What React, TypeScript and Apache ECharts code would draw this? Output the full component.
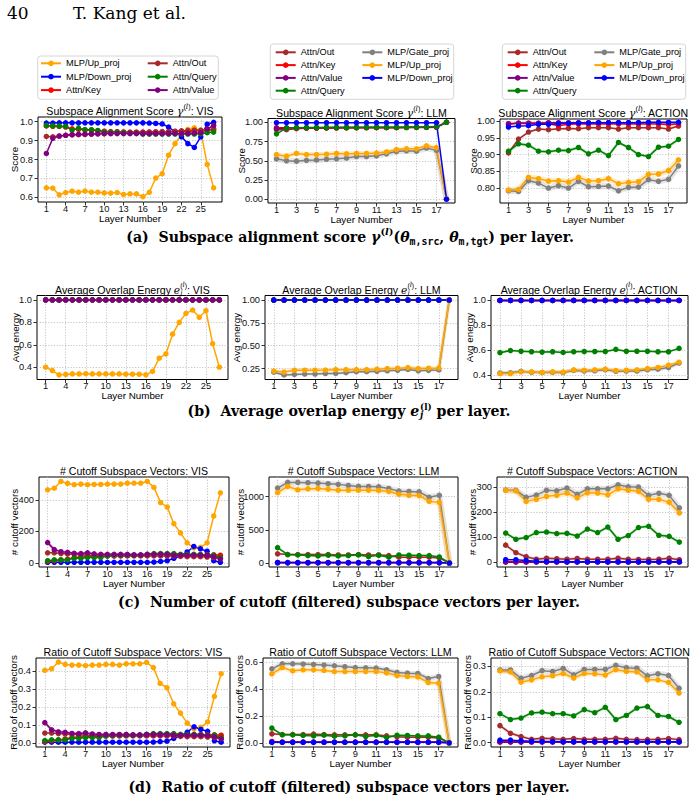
import React, { useEffect, useRef } from "react";
import * as echarts from "echarts";

// ---------------- data ----------------
const visLayers = [1,2,3,4,5,6,7,8,9,10,11,12,13,14,15,16,17,18,19,20,21,22,23,24,25,26,27];
const llmLayers = [1,2,3,4,5,6,7,8,9,10,11,12,13,14,15,16,17,18];
const actLayers = [1,2,3,4,5,6,7,8,9,10,11,12,13,14,15,16,17,18];
const visXTicks = [1,4,7,10,13,16,19,22,25];
const lmXTicks = [1,3,5,7,9,11,13,15,17];

// (a) subspace alignment score
const visGammaUp = [0.650,0.648,0.613,0.625,0.632,0.627,0.633,0.627,0.627,0.623,0.622,0.625,0.615,0.618,0.618,0.603,0.626,0.702,0.725,0.823,0.884,0.930,0.960,0.968,0.950,0.774,0.650];
const visGammaDown = [0.993,0.993,0.994,0.994,0.994,0.994,0.994,0.994,0.994,0.994,0.994,0.994,0.994,0.994,0.994,0.994,0.993,0.991,0.988,0.972,0.947,0.920,0.884,0.864,0.920,0.987,0.997];
const visGammaKey = [0.978,0.976,0.975,0.972,0.962,0.960,0.957,0.955,0.952,0.950,0.948,0.947,0.946,0.945,0.945,0.945,0.945,0.946,0.946,0.947,0.948,0.950,0.950,0.951,0.952,0.955,0.958];
const visGammaOut = [0.922,0.920,0.924,0.928,0.930,0.932,0.933,0.935,0.936,0.937,0.938,0.940,0.941,0.942,0.943,0.944,0.945,0.946,0.947,0.948,0.950,0.952,0.953,0.955,0.956,0.958,0.962];
const visGammaQuery = [0.980,0.978,0.977,0.975,0.956,0.966,0.958,0.958,0.954,0.946,0.945,0.945,0.943,0.940,0.940,0.935,0.935,0.935,0.935,0.935,0.935,0.935,0.935,0.935,0.936,0.942,0.945];
const visGammaValue = [0.832,0.912,0.924,0.928,0.932,0.933,0.934,0.935,0.936,0.937,0.937,0.937,0.937,0.937,0.937,0.937,0.937,0.937,0.937,0.937,0.938,0.938,0.938,0.940,0.942,0.962,0.980];

const llmGammaOut = [0.905,0.905,0.918,0.922,0.922,0.924,0.926,0.927,0.928,0.929,0.930,0.930,0.931,0.932,0.933,0.934,0.935,1.000];
const llmGammaKey = [0.930,0.928,0.930,0.931,0.931,0.932,0.932,0.933,0.933,0.933,0.934,0.934,0.934,0.935,0.935,0.935,0.940,1.000];
const llmGammaValue = [0.920,0.925,0.928,0.930,0.930,0.931,0.932,0.932,0.933,0.933,0.933,0.934,0.934,0.934,0.935,0.935,0.938,1.000];
const llmGammaQuery = [0.850,0.925,0.930,0.932,0.932,0.933,0.933,0.934,0.934,0.935,0.935,0.935,0.935,0.936,0.937,0.938,0.945,1.000];
const llmGammaGate = [0.525,0.500,0.495,0.505,0.510,0.520,0.525,0.535,0.555,0.555,0.565,0.590,0.620,0.630,0.625,0.665,0.635,0.000];
const llmGammaUp = [0.580,0.560,0.595,0.580,0.580,0.585,0.595,0.590,0.595,0.595,0.600,0.615,0.645,0.655,0.655,0.695,0.670,0.000];
const llmGammaDown = [0.995,0.995,0.995,0.995,0.995,0.995,0.995,0.995,0.995,0.995,0.995,0.995,0.995,0.995,0.995,0.995,0.995,0.000];

const actGammaOut = [0.905,0.946,0.967,0.976,0.974,0.977,0.978,0.977,0.980,0.980,0.980,0.976,0.980,0.980,0.980,0.980,0.976,0.985];
const actGammaKey = [0.990,0.993,0.992,0.992,0.992,0.986,0.990,0.991,0.991,0.991,0.991,0.991,0.991,0.991,0.991,0.991,0.989,0.991];
const actGammaValue = [0.992,0.994,0.994,0.994,0.995,0.995,0.995,0.995,0.995,0.995,0.995,0.995,0.995,0.995,0.995,0.995,0.995,0.995];
const actGammaQuery = [0.910,0.932,0.928,0.910,0.908,0.913,0.912,0.921,0.902,0.913,0.897,0.936,0.921,0.900,0.894,0.922,0.925,0.945];
const actGammaGate = [0.792,0.790,0.822,0.815,0.800,0.807,0.800,0.820,0.804,0.805,0.806,0.792,0.802,0.803,0.825,0.820,0.826,0.866];
const actGammaUp = [0.794,0.796,0.832,0.828,0.821,0.822,0.818,0.832,0.821,0.822,0.828,0.813,0.817,0.819,0.841,0.842,0.852,0.884];
const actGammaDown = [0.982,0.985,0.986,0.990,0.990,0.992,0.993,0.994,0.994,0.995,0.995,0.995,0.995,0.995,0.996,0.996,0.996,0.996];

// (b) average overlap energy
const visEnergyUp = [0.400,0.370,0.332,0.335,0.340,0.340,0.342,0.340,0.340,0.340,0.340,0.340,0.337,0.337,0.337,0.332,0.362,0.480,0.518,0.695,0.800,0.880,0.910,0.845,0.904,0.610,0.400];
const visEnergyDown = [1,1,1,1,1,1,1,1,1,1,1,1,1,1,1,1,1,1,1,1,1,1,1,1,1,1,1];
const visEnergyKey = [1,1,1,1,1,1,1,1,1,1,1,1,1,1,1,1,1,1,1,1,1,1,1,1,1,1,1];
const visEnergyOut = [1,1,1,1,1,1,1,1,1,1,1,1,1,1,1,1,1,1,1,1,1,1,1,1,1,1,1];
const visEnergyQuery = [1,1,1,1,1,1,1,1,1,1,1,1,1,1,1,1,1,1,1,1,1,1,1,1,1,1,1];
const visEnergyValue = [1,1,1,1,1,1,1,1,1,1,1,1,1,1,1,1,1,1,1,1,1,1,1,1,1,1,1];

const llmEnergyOut = [1,1,1,1,1,1,1,1,1,1,1,1,1,1,1,1,1,1];
const llmEnergyKey = [1,1,1,1,1,1,1,1,1,1,1,1,1,1,1,1,1,1];
const llmEnergyValue = [1,1,1,1,1,1,1,1,1,1,1,1,1,1,1,1,1,1];
const llmEnergyQuery = [1,1,1,1,1,1,1,1,1,1,1,1,1,1,1,1,1,1];
const llmEnergyGate = [0.210,0.180,0.185,0.190,0.190,0.195,0.197,0.205,0.215,0.215,0.220,0.225,0.230,0.240,0.225,0.230,0.235,1.000];
const llmEnergyUp = [0.222,0.212,0.232,0.232,0.232,0.233,0.238,0.238,0.238,0.238,0.243,0.250,0.254,0.260,0.250,0.254,0.257,1.000];
const llmEnergyDown = [1,1,1,1,1,1,1,1,1,1,1,1,1,1,1,1,1,1];

const actEnergyOut = [1,1,1,1,1,1,1,1,1,1,1,1,1,1,1,1,1,1];
const actEnergyKey = [1,1,1,1,1,1,1,1,1,1,1,1,1,1,1,1,1,1];
const actEnergyValue = [1,1,1,1,1,1,1,1,1,1,1,1,1,1,1,1,1,1];
const actEnergyQuery = [0.578,0.596,0.590,0.586,0.583,0.586,0.580,0.586,0.588,0.588,0.588,0.605,0.590,0.590,0.590,0.586,0.586,0.613];
const actEnergyGate = [0.415,0.416,0.428,0.420,0.418,0.420,0.418,0.435,0.430,0.432,0.440,0.428,0.430,0.430,0.440,0.445,0.458,0.495];
const actEnergyUp = [0.410,0.410,0.424,0.424,0.419,0.424,0.422,0.440,0.437,0.440,0.446,0.435,0.437,0.440,0.450,0.459,0.478,0.502];
const actEnergyDown = [1,1,1,1,1,1,1,1,1,1,1,1,1,1,1,1,1,1];

// (c) number of cutoff subspace vectors
const visCutoffUp = [464,474,517,504,496,500,496,498,498,500,500,500,506,506,506,517,479,383,355,249,191,128,96,100,128,298,445];
const visCutoffDown = [5,5,5,5,5,5,5,5,5,5,5,5,5,5,5,5,6,10,15,30,45,70,105,90,75,15,5];
const visCutoffKey = [10,15,20,25,35,38,40,42,44,45,46,47,48,50,50,52,54,56,56,55,52,50,50,50,52,52,50];
const visCutoffOut = [65,65,60,58,55,52,50,48,46,45,45,45,45,45,45,45,45,45,44,44,42,40,40,40,38,35,30];
const visCutoffQuery = [15,20,20,20,30,30,35,35,35,45,50,50,50,50,50,55,60,60,60,60,55,55,55,55,50,50,35];
const visCutoffValue = [130,85,72,68,62,60,65,58,55,55,55,55,55,52,52,55,55,55,55,50,50,50,50,50,48,40,25];

const llmCutoffOut = [138,128,128,128,128,128,122,122,128,122,122,112,87,87,87,87,77,0];
const llmCutoffKey = [8,6,6,6,6,6,6,6,6,6,6,6,6,6,6,6,6,0];
const llmCutoffValue = [4,4,4,4,4,4,4,4,4,4,4,4,4,4,4,4,4,0];
const llmCutoffQuery = [230,128,122,112,107,117,107,112,122,97,117,87,122,117,112,112,92,0];
const llmCutoffGate = [1128,1214,1214,1209,1204,1194,1184,1168,1153,1153,1148,1122,1082,1077,1071,990,1020,0];
const llmCutoffUp = [1061,1153,1102,1117,1122,1112,1097,1097,1097,1097,1092,1077,1036,1020,1015,929,913,0];
const llmCutoffDown = [6,6,6,6,6,6,6,6,6,6,6,6,6,6,6,6,6,0];

const actCutoffOut = [69,39,23,13,17,15,13,16,13,13,13,17,13,12,12,13,17,11];
const actCutoffKey = [3,3,3,3,3,3,3,3,3,3,3,3,3,3,3,3,3,3];
const actCutoffValue = [1,1,1,1,1,1,1,1,1,1,1,1,1,1,1,1,1,1];
const actCutoffQuery = [117,92,99,119,121,115,116,105,133,119,141,92,107,139,144,108,104,81];
const actCutoffGate = [288,287,259,268,287,285,296,271,293,293,293,309,301,300,267,275,267,217];
const actCutoffUp = [287,285,243,251,263,267,276,257,277,276,269,293,287,283,251,251,240,197];
const actCutoffDown = [11,11,8,5,4,4,3,3,3,3,3,3,3,3,3,3,3,3];

// (d) ratio of cutoff subspace vectors
const visRatioUp = [0.404,0.413,0.450,0.437,0.433,0.433,0.430,0.433,0.433,0.437,0.437,0.433,0.440,0.440,0.440,0.448,0.419,0.331,0.307,0.218,0.166,0.110,0.078,0.087,0.117,0.259,0.385];
const visRatioDown = [0.004,0.004,0.004,0.004,0.004,0.004,0.004,0.004,0.004,0.004,0.004,0.004,0.004,0.004,0.004,0.004,0.005,0.008,0.010,0.025,0.040,0.060,0.090,0.075,0.065,0.012,0.004];
const visRatioKey = [0.008,0.012,0.017,0.022,0.030,0.033,0.035,0.036,0.038,0.039,0.040,0.041,0.042,0.043,0.043,0.045,0.047,0.048,0.048,0.047,0.045,0.043,0.043,0.043,0.045,0.045,0.043];
const visRatioOut = [0.055,0.055,0.052,0.050,0.048,0.045,0.043,0.041,0.040,0.039,0.039,0.039,0.039,0.039,0.039,0.039,0.039,0.039,0.038,0.038,0.036,0.035,0.035,0.035,0.033,0.030,0.026];
const visRatioQuery = [0.013,0.017,0.017,0.017,0.026,0.026,0.030,0.030,0.030,0.039,0.043,0.043,0.043,0.043,0.043,0.048,0.052,0.052,0.052,0.052,0.048,0.048,0.048,0.048,0.043,0.043,0.030];
const visRatioValue = [0.113,0.073,0.062,0.059,0.053,0.052,0.056,0.050,0.047,0.047,0.047,0.047,0.047,0.045,0.045,0.047,0.047,0.047,0.047,0.043,0.043,0.043,0.043,0.043,0.041,0.034,0.022];

const llmRatioOut = [0.067,0.062,0.062,0.062,0.065,0.062,0.060,0.060,0.060,0.060,0.060,0.052,0.045,0.042,0.042,0.042,0.037,0];
const llmRatioKey = [0.010,0.006,0.006,0.006,0.006,0.006,0.006,0.006,0.006,0.006,0.006,0.006,0.006,0.006,0.006,0.006,0.006,0];
const llmRatioValue = [0.004,0.004,0.004,0.004,0.004,0.004,0.004,0.004,0.004,0.004,0.004,0.004,0.004,0.004,0.004,0.004,0.004,0];
const llmRatioQuery = [0.110,0.060,0.060,0.055,0.052,0.057,0.050,0.052,0.060,0.047,0.057,0.040,0.057,0.055,0.052,0.052,0.042,0];
const llmRatioGate = [0.552,0.590,0.590,0.588,0.585,0.580,0.575,0.568,0.562,0.560,0.558,0.545,0.525,0.520,0.518,0.480,0.495,0];
const llmRatioUp = [0.515,0.562,0.537,0.545,0.545,0.540,0.532,0.532,0.532,0.532,0.532,0.522,0.502,0.495,0.492,0.450,0.445,0];
const llmRatioDown = [0.005,0.005,0.005,0.005,0.005,0.005,0.005,0.005,0.005,0.005,0.005,0.005,0.005,0.005,0.005,0.005,0.005,0];

const actRatioOut = [0.067,0.037,0.024,0.013,0.017,0.015,0.013,0.016,0.013,0.013,0.013,0.017,0.013,0.012,0.012,0.013,0.016,0.012];
const actRatioKey = [0.004,0.004,0.004,0.004,0.004,0.004,0.004,0.004,0.004,0.004,0.004,0.004,0.004,0.004,0.004,0.004,0.004,0.004];
const actRatioValue = [0.002,0.002,0.002,0.002,0.002,0.002,0.002,0.002,0.002,0.002,0.002,0.002,0.002,0.002,0.002,0.002,0.002,0.002];
const actRatioQuery = [0.114,0.091,0.097,0.117,0.120,0.114,0.114,0.105,0.130,0.118,0.139,0.091,0.107,0.136,0.142,0.107,0.103,0.080];
const actRatioGate = [0.286,0.286,0.253,0.264,0.283,0.280,0.292,0.267,0.288,0.288,0.288,0.304,0.295,0.293,0.263,0.271,0.264,0.214];
const actRatioUp = [0.282,0.278,0.238,0.247,0.259,0.263,0.272,0.254,0.272,0.271,0.266,0.287,0.280,0.278,0.247,0.247,0.237,0.195];
const actRatioDown = [0.010,0.010,0.008,0.006,0.005,0.005,0.004,0.004,0.004,0.004,0.004,0.004,0.004,0.004,0.004,0.004,0.004,0.004];

// ---------------- styles ----------------
const COLOR: Record<string, string> = {
  "Attn/Out": "#a52a2a",
  "Attn/Key": "#ff0000",
  "Attn/Value": "#800080",
  "Attn/Query": "#008000",
  "MLP/Gate_proj": "#808080",
  "MLP/Up_proj": "#ffa500",
  "MLP/Down_proj": "#0000ff",
};
const SANS = "'Liberation Sans', Arial, Helvetica, sans-serif";
const SERIF = "'DejaVu Serif', 'Liberation Serif', serif";
const MONO = "'DejaVu Sans Mono', 'Liberation Mono', monospace";
const TITLE_SIZE = 10.6;
const TICK_SIZE = 9.3;
const NAME_SIZE = 9.8;
const LEGEND_SIZE = 9.2;

type Piece = { t: string; k?: number; fam?: string; it?: boolean; bold?: boolean; dy?: number; stay?: boolean; gap?: number };

let _ctx: CanvasRenderingContext2D | null = null;
function ctx2d() {
  if (!_ctx) _ctx = document.createElement("canvas").getContext("2d");
  return _ctx!;
}
function fontStr(size: number, fam: string, it: boolean, bold: boolean) {
  return `${it ? "italic " : ""}${bold ? "bold " : ""}${size}px ${fam}`;
}
function measure(pieces: Piece[], base: number, fam: string, bold: boolean) {
  const c = ctx2d();
  return pieces.map((p) => {
    const size = base * (p.k ?? 1);
    c.font = fontStr(size, p.fam ?? fam, !!p.it, p.bold ?? bold);
    return { p, size, w: c.measureText(p.t).width + (p.gap ?? 0) };
  });
}
function totalWidth(pieces: Piece[], base: number, fam: string, bold: boolean) {
  return measure(pieces, base, fam, bold).reduce((s, m) => s + (m.p.stay ? 0 : m.w), 0);
}
function compose(pieces: Piece[], x: number, cy: number, base: number, fam: string, align: "center" | "left", bold = false, fill = "#000") {
  const ms = measure(pieces, base, fam, bold);
  const total = ms.reduce((s, m) => s + (m.p.stay ? 0 : m.w), 0);
  let cx = align === "center" ? x - total / 2 : x;
  const els: any[] = [];
  ms.forEach((m) => {
    els.push({
      type: "text", x: cx, y: cy + ((m.p.dy ?? 0) * base) / 10, silent: true, z: 50,
      style: {
        text: m.p.t, fontSize: m.size, fontFamily: m.p.fam ?? fam,
        fontStyle: m.p.it ? "italic" : "normal", fontWeight: (m.p.bold ?? bold) ? "bold" : "normal",
        fill, align: "left", verticalAlign: "middle",
      },
    });
    if (!m.p.stay) cx += m.w;
  });
  return els;
}

const gammaTitle = (d: string): Piece[] => [
  { t: "Subspace Alignment Score " }, { t: "γ", fam: SERIF, it: true },
  { t: "(", k: 0.7, dy: -4 }, { t: "l", k: 0.7, dy: -4, fam: SERIF, it: true }, { t: ")", k: 0.7, dy: -4 },
  { t: ": " + d },
];
const energyTitle = (d: string): Piece[] => [
  { t: "Average Overlap Energy " }, { t: "e", fam: SERIF, it: true },
  { t: "j", k: 0.65, dy: 3.5, fam: SERIF, it: true, stay: true },
  { t: "(", k: 0.65, dy: -4.2 }, { t: "l", k: 0.65, dy: -4.2, fam: SERIF, it: true }, { t: ")", k: 0.65, dy: -4.2 },
  { t: ": " + d },
];
const plainTitle = (s: string): Piece[] => [{ t: s }];

type SeriesDef = { name: string; data: number[]; band?: number };
type Panel = {
  box: [number, number, number, number];
  layers: number[]; xr: [number, number]; xticks: number[];
  yr: [number, number]; yticks: number[]; ydec: number; yname: string; ygap: number; xgap: number;
  title: Piece[]; series: SeriesDef[];
};

const visX: [number, number] = [-0.3, 28.3];
const lmX: [number, number] = [0.15, 18.85];

const PANELS: Panel[] = [
  // row a
  { box: [38, 117, 222, 202], layers: visLayers, xr: visX, xticks: visXTicks, yr: [0.575, 1.025], yticks: [0.6, 0.7, 0.8, 0.9, 1.0], ydec: 1, yname: "Score", ygap: 19, xgap: 11, title: gammaTitle("VIS"),
    series: [
      { name: "MLP/Up_proj", data: visGammaUp }, { name: "MLP/Down_proj", data: visGammaDown },
      { name: "Attn/Key", data: visGammaKey }, { name: "Attn/Out", data: visGammaOut },
      { name: "Attn/Query", data: visGammaQuery }, { name: "Attn/Value", data: visGammaValue },
    ] },
  { box: [268, 118.5, 455, 203], layers: llmLayers, xr: lmX, xticks: lmXTicks, yr: [-0.05, 1.05], yticks: [0, 0.25, 0.5, 0.75, 1.0], ydec: 2, yname: "Score", ygap: 22, xgap: 11, title: gammaTitle("LLM"),
    series: [
      { name: "Attn/Out", data: llmGammaOut }, { name: "Attn/Key", data: llmGammaKey },
      { name: "Attn/Value", data: llmGammaValue }, { name: "Attn/Query", data: llmGammaQuery },
      { name: "MLP/Gate_proj", data: llmGammaGate, band: 6 }, { name: "MLP/Up_proj", data: llmGammaUp, band: 5 },
      { name: "MLP/Down_proj", data: llmGammaDown },
    ] },
  { box: [500, 119, 687, 203], layers: actLayers, xr: lmX, xticks: lmXTicks, yr: [0.7555, 1.006], yticks: [0.8, 0.85, 0.9, 0.95, 1.0], ydec: 2, yname: "Score", ygap: 22, xgap: 11, title: gammaTitle("ACTION"),
    series: [
      { name: "Attn/Out", data: actGammaOut, band: 2 }, { name: "Attn/Key", data: actGammaKey },
      { name: "Attn/Value", data: actGammaValue }, { name: "Attn/Query", data: actGammaQuery, band: 3 },
      { name: "MLP/Gate_proj", data: actGammaGate, band: 6 }, { name: "MLP/Up_proj", data: actGammaUp, band: 6 },
      { name: "MLP/Down_proj", data: actGammaDown },
    ] },
  // row b
  { box: [37, 295.5, 228, 379.5], layers: visLayers, xr: visX, xticks: visXTicks, yr: [0.29, 1.04], yticks: [0.4, 0.6, 0.8, 1.0], ydec: 1, yname: "Avg energy", ygap: 17, xgap: 10.5, title: energyTitle("VIS"),
    series: [
      { name: "MLP/Up_proj", data: visEnergyUp }, { name: "MLP/Down_proj", data: visEnergyDown },
      { name: "Attn/Key", data: visEnergyKey }, { name: "Attn/Out", data: visEnergyOut },
      { name: "Attn/Query", data: visEnergyQuery }, { name: "Attn/Value", data: visEnergyValue },
    ] },
  { box: [265, 295.5, 458, 379.5], layers: llmLayers, xr: lmX, xticks: lmXTicks, yr: [0.13, 1.05], yticks: [0.25, 0.5, 0.75, 1.0], ydec: 2, yname: "Avg energy", ygap: 23.5, xgap: 10.5, title: energyTitle("LLM"),
    series: [
      { name: "Attn/Out", data: llmEnergyOut }, { name: "Attn/Key", data: llmEnergyKey },
      { name: "Attn/Value", data: llmEnergyValue }, { name: "Attn/Query", data: llmEnergyQuery },
      { name: "MLP/Gate_proj", data: llmEnergyGate, band: 3 }, { name: "MLP/Up_proj", data: llmEnergyUp, band: 4 },
      { name: "MLP/Down_proj", data: llmEnergyDown },
    ] },
  { box: [491, 295.5, 688, 379.5], layers: actLayers, xr: lmX, xticks: lmXTicks, yr: [0.362, 1.04], yticks: [0.4, 0.6, 0.8, 1.0], ydec: 1, yname: "Avg energy", ygap: 17, xgap: 10.5, title: energyTitle("ACTION"),
    series: [
      { name: "Attn/Out", data: actEnergyOut }, { name: "Attn/Key", data: actEnergyKey },
      { name: "Attn/Value", data: actEnergyValue }, { name: "Attn/Query", data: actEnergyQuery, band: 2 },
      { name: "MLP/Gate_proj", data: actEnergyGate, band: 4 }, { name: "MLP/Up_proj", data: actEnergyUp, band: 4 },
      { name: "MLP/Down_proj", data: actEnergyDown },
    ] },
  // row c
  { box: [39, 477, 229, 567], layers: visLayers, xr: visX, xticks: visXTicks, yr: [-25, 545], yticks: [0, 200, 400], ydec: 0, yname: "# cutoff vectors", ygap: 20, xgap: 11.5, title: plainTitle("# Cutoff Subspace Vectors: VIS"),
    series: [
      { name: "MLP/Up_proj", data: visCutoffUp }, { name: "MLP/Down_proj", data: visCutoffDown },
      { name: "Attn/Key", data: visCutoffKey }, { name: "Attn/Out", data: visCutoffOut },
      { name: "Attn/Query", data: visCutoffQuery }, { name: "Attn/Value", data: visCutoffValue, band: 3 },
    ] },
  { box: [269, 477, 458, 567], layers: llmLayers, xr: lmX, xticks: lmXTicks, yr: [-60, 1295], yticks: [0, 500, 1000], ydec: 0, yname: "# cutoff vectors", ygap: 24, xgap: 11.5, title: plainTitle("# Cutoff Subspace Vectors: LLM"),
    series: [
      { name: "Attn/Out", data: llmCutoffOut, band: 2 }, { name: "Attn/Key", data: llmCutoffKey },
      { name: "Attn/Value", data: llmCutoffValue }, { name: "Attn/Query", data: llmCutoffQuery, band: 2 },
      { name: "MLP/Gate_proj", data: llmCutoffGate, band: 6 }, { name: "MLP/Up_proj", data: llmCutoffUp, band: 6 },
      { name: "MLP/Down_proj", data: llmCutoffDown },
    ] },
  { box: [497, 477, 688, 567], layers: actLayers, xr: lmX, xticks: lmXTicks, yr: [-18, 340], yticks: [0, 100, 200, 300], ydec: 0, yname: "# cutoff vectors", ygap: 20, xgap: 11.5, title: plainTitle("# Cutoff Subspace Vectors: ACTION"),
    series: [
      { name: "Attn/Out", data: actCutoffOut, band: 3 }, { name: "Attn/Key", data: actCutoffKey },
      { name: "Attn/Value", data: actCutoffValue }, { name: "Attn/Query", data: actCutoffQuery, band: 3 },
      { name: "MLP/Gate_proj", data: actCutoffGate, band: 6 }, { name: "MLP/Up_proj", data: actCutoffUp, band: 6 },
      { name: "MLP/Down_proj", data: actCutoffDown },
    ] },
  // row d
  { box: [36, 658, 230, 747], layers: visLayers, xr: visX, xticks: visXTicks, yr: [-0.0225, 0.4725], yticks: [0, 0.1, 0.2, 0.3, 0.4], ydec: 1, yname: "Ratio of cutoff vectors", ygap: 18, xgap: 11, title: plainTitle("Ratio of Cutoff Subspace Vectors: VIS"),
    series: [
      { name: "MLP/Up_proj", data: visRatioUp }, { name: "MLP/Down_proj", data: visRatioDown },
      { name: "Attn/Key", data: visRatioKey }, { name: "Attn/Out", data: visRatioOut },
      { name: "Attn/Query", data: visRatioQuery }, { name: "Attn/Value", data: visRatioValue, band: 3 },
    ] },
  { box: [263, 658, 458, 747], layers: llmLayers, xr: lmX, xticks: lmXTicks, yr: [-0.031, 0.633], yticks: [0, 0.2, 0.4, 0.6], ydec: 1, yname: "Ratio of cutoff vectors", ygap: 18.5, xgap: 11, title: plainTitle("Ratio of Cutoff Subspace Vectors: LLM"),
    series: [
      { name: "Attn/Out", data: llmRatioOut, band: 2 }, { name: "Attn/Key", data: llmRatioKey },
      { name: "Attn/Value", data: llmRatioValue }, { name: "Attn/Query", data: llmRatioQuery, band: 2 },
      { name: "MLP/Gate_proj", data: llmRatioGate, band: 5 }, { name: "MLP/Up_proj", data: llmRatioUp, band: 5 },
      { name: "MLP/Down_proj", data: llmRatioDown },
    ] },
  { box: [491, 658, 688, 747], layers: actLayers, xr: lmX, xticks: lmXTicks, yr: [-0.017, 0.333], yticks: [0, 0.1, 0.2, 0.3], ydec: 1, yname: "Ratio of cutoff vectors", ygap: 19, xgap: 11, title: plainTitle("Ratio of Cutoff Subspace Vectors: ACTION"),
    series: [
      { name: "Attn/Out", data: actRatioOut, band: 3 }, { name: "Attn/Key", data: actRatioKey },
      { name: "Attn/Value", data: actRatioValue }, { name: "Attn/Query", data: actRatioQuery, band: 3 },
      { name: "MLP/Gate_proj", data: actRatioGate, band: 6 }, { name: "MLP/Up_proj", data: actRatioUp, band: 5 },
      { name: "MLP/Down_proj", data: actRatioDown },
    ] },
];

const capA: Piece[] = [
  { t: "(a)  " }, { t: "Subspace alignment score " }, { t: "γ", it: true },
  { t: "(", k: 0.7, dy: -4 }, { t: "l", k: 0.7, dy: -4, it: true }, { t: ")", k: 0.7, dy: -4 },
  { t: "(" }, { t: "θ", it: true }, { t: "m,src", k: 0.7, dy: 3, fam: MONO },
  { t: ", " }, { t: "θ", it: true }, { t: "m,tgt", k: 0.7, dy: 3, fam: MONO },
  { t: ") per layer." },
];
const capB: Piece[] = [
  { t: "(b)  " }, { t: "Average overlap energy " }, { t: "e", it: true, gap: 0.8 },
  { t: "j", k: 0.62, dy: 3.2, it: true, stay: true },
  { t: "(l)", k: 0.62, dy: -2.8 },
  { t: "\u00a0per layer." },
];
const capC: Piece[] = [{ t: "(c)  " }, { t: "Number of cutoff (filtered) subspace vectors per layer." }];
const capD: Piece[] = [{ t: "(d)  " }, { t: "Ratio of cutoff (filtered) subspace vectors per layer." }];

function buildOption() {
  const grid: any[] = [];
  const xAxis: any[] = [];
  const yAxis: any[] = [];
  const series: any[] = [];
  const graphics: any[] = [];
  const tickLabel = { fontSize: TICK_SIZE, color: "#111", fontFamily: SANS };
  const nameStyle = { fontSize: NAME_SIZE, color: "#000", fontFamily: SANS };
  const split = { show: true, lineStyle: { color: "#b8b8b8", width: 0.8, type: [1.2, 1.6] } };

  PANELS.forEach((p, i) => {
    const [l, t, r, b] = p.box;
    grid.push({ left: l, top: t, width: r - l, height: b - t, show: true, borderColor: "#000", borderWidth: 1, backgroundColor: "rgba(0,0,0,0)", containLabel: false, outerBoundsMode: "none" });
    xAxis.push({
      gridIndex: i, type: "value", position: "bottom", min: p.xr[0], max: p.xr[1],
      axisLine: { show: false, onZero: false },
      axisTick: { show: true, inside: false, length: 3.5, lineStyle: { color: "#000", width: 0.8 }, customValues: p.xticks },
      axisLabel: { ...tickLabel, margin: 2, customValues: p.xticks, formatter: (v: number) => String(Math.round(v)) },
      splitLine: split,
      name: "Layer Number", nameLocation: "middle", nameGap: p.xgap, nameMoveOverlap: false, nameTextStyle: nameStyle,
    });
    yAxis.push({
      gridIndex: i, type: "value", position: "left", min: p.yr[0], max: p.yr[1],
      axisLine: { show: false, onZero: false },
      axisTick: { show: true, inside: false, length: 3.5, lineStyle: { color: "#000", width: 0.8 }, customValues: p.yticks },
      axisLabel: { ...tickLabel, margin: 5, customValues: p.yticks, formatter: (v: number) => v.toFixed(p.ydec) },
      splitLine: split,
      name: p.yname, nameLocation: "middle", nameGap: p.ygap, nameMoveOverlap: false, nameTextStyle: nameStyle,
    });
    p.series.forEach((s) => {
      if (!s.band) return;
      series.push({
        type: "line", name: s.name + " (spread)", xAxisIndex: i, yAxisIndex: i,
        data: p.layers.map((x, k) => [x, s.data[k]]),
        symbol: "none", silent: true, z: 2,
        lineStyle: { width: s.band, color: COLOR[s.name], opacity: 0.2, cap: "round", join: "round" },
        emphasis: { disabled: true },
      });
    });
    p.series.forEach((s) => {
      series.push({
        type: "line", name: s.name, xAxisIndex: i, yAxisIndex: i,
        data: p.layers.map((x, k) => [x, s.data[k]]),
        symbol: "circle", symbolSize: 5.5, showSymbol: true, silent: true, z: 3,
        lineStyle: { width: 1.5, color: COLOR[s.name] },
        itemStyle: { color: COLOR[s.name] },
        emphasis: { disabled: true },
      });
    });
    graphics.push(...compose(p.title, (l + r) / 2, t - 5.8, TITLE_SIZE, SANS, "center"));
  });

  // legend frames
  const frames = [
    [37.7, 56, 180.6, 43.3],
    [270.3, 44, 183.4, 55.3],
    [502.3, 44, 183.4, 55.3],
  ];
  frames.forEach(([x, y, w, h]) => {
    graphics.push({ type: "rect", silent: true, z: 0, shape: { x, y, width: w, height: h, r: 3 }, style: { fill: "#fff", stroke: "#cccccc", lineWidth: 0.8 } });
  });

  const legendBase = {
    orient: "vertical", padding: 0, itemGap: 0, itemWidth: 20, itemHeight: 7, selectedMode: false, z: 5,
    textStyle: { fontSize: LEGEND_SIZE, color: "#000", fontFamily: SANS, lineHeight: 13.4 },
  };
  const legendLm = { ...legendBase, textStyle: { ...legendBase.textStyle, lineHeight: 12.8 } };
  const legend = [
    { ...legendBase, left: 40, top: 56.6, data: ["MLP/Up_proj", "MLP/Down_proj", "Attn/Key"] },
    { ...legendBase, left: 146.7, top: 56.6, data: ["Attn/Out", "Attn/Query", "Attn/Value"] },
    { ...legendLm, left: 274.7, top: 45.9, data: ["Attn/Out", "Attn/Key", "Attn/Value", "Attn/Query"] },
    { ...legendLm, left: 361.3, top: 45.9, data: ["MLP/Gate_proj", "MLP/Up_proj", "MLP/Down_proj"] },
    { ...legendLm, left: 506.7, top: 45.9, data: ["Attn/Out", "Attn/Key", "Attn/Value", "Attn/Query"] },
    { ...legendLm, left: 593.3, top: 45.9, data: ["MLP/Gate_proj", "MLP/Up_proj", "MLP/Down_proj"] },
  ];

  // captions
  const capBase = (12 * 462) / totalWidth(capC, 12, SERIF, true);
  graphics.push(...compose(capA, 350, 237, capBase, SERIF, "center", true));
  graphics.push(...compose(capB, 349, 410.5, capBase, SERIF, "center", true));
  graphics.push(...compose(capC, 349, 602, capBase, SERIF, "center", true));
  graphics.push(...compose(capD, 349, 787, capBase, SERIF, "center", true));

  // running header
  const headBase = (16 * 113) / totalWidth([{ t: "T. Kang et al." }], 16, SERIF, false);
  graphics.push(...compose([{ t: "40" }], 7, 12.8, headBase, SERIF, "left"));
  graphics.push(...compose([{ t: "T. Kang et al." }], 73, 12.8, headBase, SERIF, "left"));

  return {
    animation: false,
    backgroundColor: "#ffffff",
    textStyle: { fontFamily: SANS },
    grid, xAxis, yAxis, series, legend,
    graphic: { elements: graphics },
  };
}

export default function App() {
  const ref = useRef<HTMLDivElement>(null);
  useEffect(() => {
    if (!ref.current) return;
    const chart = echarts.init(ref.current, null, { renderer: "svg", width: 695, height: 800 });
    chart.setOption(buildOption() as any);
    return () => chart.dispose();
  }, []);
  return <div ref={ref} style={{ position: "absolute", left: 0, top: 0, width: 695, height: 800, background: "#fff" }} />;
}
